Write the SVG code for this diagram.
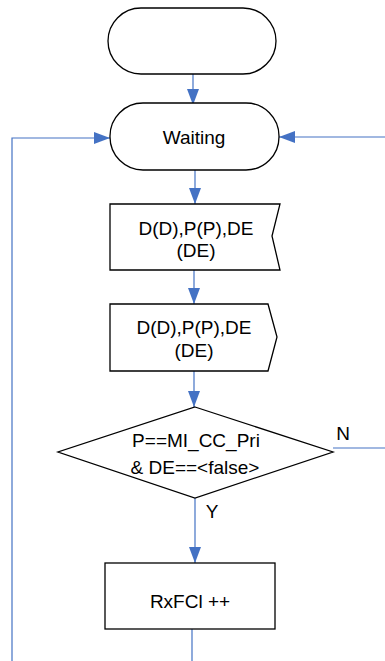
<svg xmlns="http://www.w3.org/2000/svg" width="385" height="661" viewBox="0 0 385 661">
<style>
.n{fill:#fff;stroke:#000;stroke-width:1.3}
.t{font-family:"Liberation Sans",Arial,sans-serif;font-size:19px;fill:#000;text-anchor:middle;dominant-baseline:central}
.c{fill:none;stroke:#4472C4;stroke-width:1.2}
</style>
<defs>
<marker id="a" markerWidth="16" markerHeight="12" refX="16" refY="6" viewBox="0 0 16 12" markerUnits="userSpaceOnUse" orient="auto">
<path d="M0,0 L16,6 L0,12 Z" fill="#4472C4"/>
</marker>
</defs>
<g id="connectors">
<path class="c" d="M193,74 V105" marker-end="url(#a)"/>
<path class="c" d="M12,661 V138 H110" marker-end="url(#a)"/>
<path class="c" d="M385,137 H279" marker-end="url(#a)"/>
<path class="c" d="M195,170 V204" marker-end="url(#a)"/>
<path class="c" d="M194,270 V304" marker-end="url(#a)"/>
<path class="c" d="M194,371 V407" marker-end="url(#a)"/>
<path class="c" d="M333,448 H385"/>
<path class="c" d="M195,498 V563" marker-end="url(#a)"/>
<path class="c" d="M192,629 V661"/>
</g>
<g id="start">
<rect class="n" x="108" y="8" width="168" height="66" rx="33" ry="33"/>
</g>
<g id="waiting">
<rect class="n" x="110" y="103" width="169" height="67" rx="33" ry="33"/>
<text class="t" x="194" y="137">Waiting</text>
</g>
<g id="input1">
<path class="n" d="M110,204 H280 L272,236 L280,270 H110 Z"/>
<text class="t" x="196" y="228">D(D),P(P),DE</text>
<text class="t" x="196" y="250">(DE)</text>
</g>
<g id="output1">
<path class="n" d="M110,304 H268 L277,337 L268,371 H110 Z"/>
<text class="t" x="194" y="327">D(D),P(P),DE</text>
<text class="t" x="194" y="350">(DE)</text>
</g>
<g id="decision">
<path class="n" d="M195,407 L333,452 L195,498 L58,452 Z"/>
<text class="t" x="196" y="440">P==MI_CC_Pri</text>
<text class="t" x="195" y="467">&amp; DE==&lt;false&gt;</text>
<text class="t" x="343" y="433">N</text>
<text class="t" x="212" y="511">Y</text>
</g>
<g id="rxfcl">
<rect class="n" x="105" y="563" width="170" height="66"/>
<text class="t" x="190" y="601">RxFCl ++</text>
</g>
</svg>
